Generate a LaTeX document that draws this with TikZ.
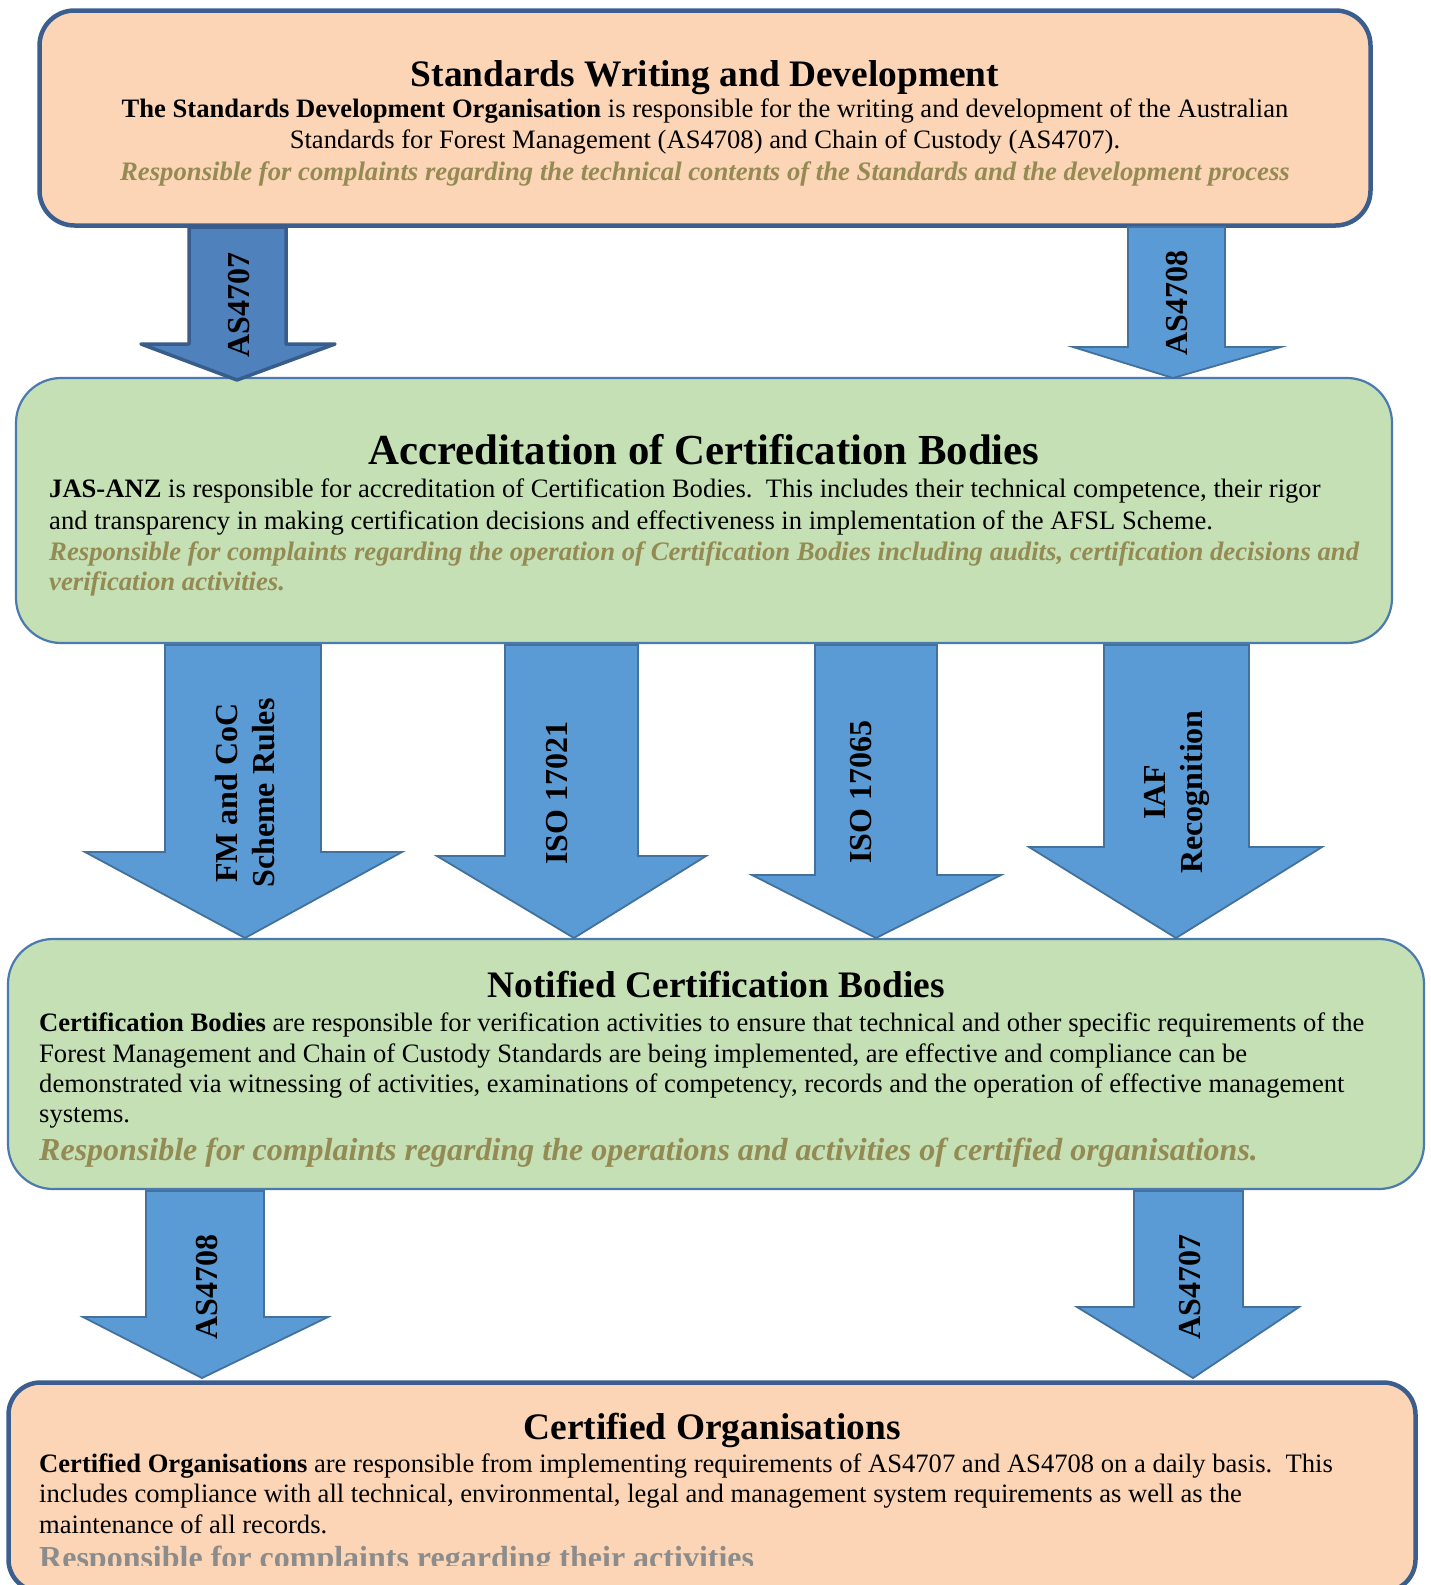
\documentclass[tikz,border=0pt]{standalone}
\usepackage{fontspec}
\setmainfont{Liberation Serif}
\definecolor{peach}{HTML}{FBD5B5}
\definecolor{darkedge}{HTML}{3B5E8F}
\definecolor{greenfill}{HTML}{C5E0B4}
\definecolor{greenedge}{HTML}{4A7AB0}
\definecolor{arrfill}{HTML}{5B9BD5}
\definecolor{arredge}{HTML}{41719C}
\definecolor{arrfillB}{HTML}{4F81BD}
\definecolor{arredgeB}{HTML}{385D8A}
\definecolor{olive}{HTML}{948A54}
\definecolor{graytxt}{HTML}{8C8C8C}
\newcommand\fsz[2]{\fontsize{#1}{#2}\selectfont}
\newcommand\blockarrow[8]{%
  \draw[#1] (#2,#4) -- (#3,#4) -- (#3,#5) -- (#7,#5) -- (#8) -- (#6,#5) -- (#2,#5) -- cycle;}
\tikzset{
  peachbox/.style={draw=darkedge, line width=4.5pt, fill=peach, rounded corners=35pt, inner sep=0pt},
  greenbox/.style={draw=greenedge, line width=2.2pt, fill=greenfill, rounded corners=45pt, inner sep=0pt},
  barrow/.style={fill=arrfill, draw=arredge, line width=1.8pt, line join=miter},
  darrow/.style={fill=arrfillB, draw=arredgeB, line width=3.5pt, line join=round},
  ttl/.style={inner sep=0pt, anchor=base, font=\bfseries\fsz{37.4}{44}},
  bodyc/.style={inner sep=0pt, anchor=base, font=\fsz{26.6}{31}},
  bodyl/.style={inner sep=0pt, anchor=base west, font=\fsz{26.6}{31}},
  olivec/.style={inner sep=0pt, anchor=base, font=\bfseries\itshape\fsz{26.7}{31}, text=olive},
  olivel/.style={inner sep=0pt, anchor=base west, font=\bfseries\itshape\fsz{26.7}{31}, text=olive},
  arrlabel/.style={inner sep=0pt, rotate=90, align=center, font=\bfseries\fsz{32}{37}}
}
\begin{document}
\begin{tikzpicture}[x=1pt,y=-1pt]
\useasboundingbox[fill=white] (0,0) rectangle (1430,1585);

% boxes
\node[peachbox, minimum width=1331pt, minimum height=215pt] (box1) at (705,118) {};
\node[greenbox, minimum width=1376pt, minimum height=265pt] (box2) at (704,510.5) {};
\node[greenbox, minimum width=1416pt, minimum height=250pt] (box3) at (716,1064) {};
\node[peachbox, rounded corners=32pt, minimum width=1407pt, minimum height=209pt] (box4) at (712,1487) {};

% arrows box1 -> box2
\blockarrow{darrow}{189}{286}{227}{344}{141}{335}{237,380}
\blockarrow{barrow}{1128}{1225}{227}{347}{1073}{1281}{1173,378}
% arrows box2 -> box3
\blockarrow{barrow}{165}{321}{645}{852}{85}{402}{245,938}
\blockarrow{barrow}{505}{638}{645}{856}{437}{706}{574,938}
\blockarrow{barrow}{815}{937}{645}{875}{752}{1001}{876,938}
\blockarrow{barrow}{1104}{1249}{645}{847}{1029}{1322}{1176,938}
% arrows box3 -> box4
\blockarrow{barrow}{146}{264}{1191}{1317}{83}{328}{202,1378}
\blockarrow{barrow}{1134}{1243}{1191}{1307}{1077}{1299}{1193,1378}

% arrow labels
\node[arrlabel] (la1) at (239,305) {AS4707};
\node[arrlabel] (la2) at (1177,303) {AS4708};
\node[arrlabel] (lb1) at (245,793) {FM and CoC\\Scheme Rules};
\node[arrlabel] (lb2) at (557,793) {ISO 17021};
\node[arrlabel] (lb3) at (861,792) {ISO 17065};
\node[arrlabel] (lb4) at (1177,792) {IAF\\Recognition};
\node[arrlabel] (lc1) at (207,1287) {AS4708};
\node[arrlabel] (lc2) at (1190,1287) {AS4707};

% box1 text
\node[ttl] (t1) at (705,86) {Standards Writing and Development};
\node[bodyc] (t1a) at (705,117) {\textbf{The Standards Development Organisation} is responsible for the writing and development of the Australian};
\node[bodyc] (t1b) at (705,148) {Standards for Forest Management (AS4708) and Chain of Custody (AS4707).};
\node[olivec] (t1c) at (705,180) {Responsible for complaints regarding the technical contents of the Standards and the development process};

% box2 text
\node[ttl, font=\bfseries\fsz{42.8}{48}] (t2) at (704,464) {Accreditation of Certification Bodies};
\node[bodyl] (t2a) at (49,497) {\textbf{JAS-ANZ} is responsible for accreditation of Certification Bodies.\ \ This includes their technical competence, their rigor};
\node[bodyl] (t2b) at (49,529) {and transparency in making certification decisions and effectiveness in implementation of the AFSL Scheme.};
\node[olivel] (t2c) at (49,560) {Responsible for complaints regarding the operation of Certification Bodies including audits, certification decisions and};
\node[olivel] (t2d) at (49,590) {verification activities.};

% box3 text
\node[ttl] (t3) at (716,997) {Notified Certification Bodies};
\node[bodyl] (t3a) at (39,1031) {\textbf{Certification Bodies} are responsible for verification activities to ensure that technical and other specific requirements of the};
\node[bodyl] (t3b) at (39,1062) {Forest Management and Chain of Custody Standards are being implemented, are effective and compliance can be};
\node[bodyl] (t3c) at (39,1092) {demonstrated via witnessing of activities, examinations of competency, records and the operation of effective management};
\node[bodyl] (t3d) at (39,1122) {systems.};
\node[olivel, font=\bfseries\itshape\fsz{32}{38}] (t3e) at (39,1160) {Responsible for complaints regarding the operations and activities of certified organisations.};

% box4 text
\node[ttl] (t4) at (712,1439) {Certified Organisations};
\node[bodyl] (t4a) at (39,1472) {\textbf{Certified Organisations} are responsible from implementing requirements of AS4707 and AS4708 on a daily basis.\ \ This};
\node[bodyl] (t4b) at (39,1502) {includes compliance with all technical, environmental, legal and management system requirements as well as the};
\node[bodyl] (t4c) at (39,1533) {maintenance of all records.};
\begin{scope}
\clip (0,1300) rectangle (1430,1565);
\node[inner sep=0pt, anchor=base west, font=\bfseries\fsz{32}{38}, text=graytxt] (t4d) at (39,1568) {Responsible for complaints regarding their activities};
\end{scope}
\end{tikzpicture}
\end{document}
